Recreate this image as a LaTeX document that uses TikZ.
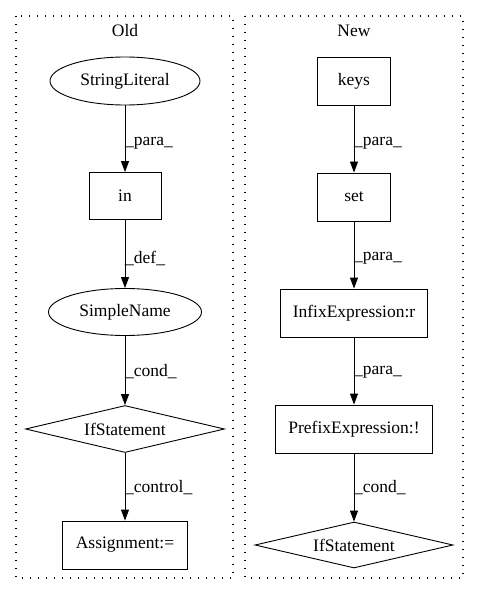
\documentclass[tikz,border=0pt]{standalone}
\usepackage{fontspec}
\setmainfont{Liberation Serif}
\usetikzlibrary{shapes.geometric,arrows.meta}
\begin{document}
\begin{tikzpicture}[x=1pt,y=-1pt,
  every node/.style={font=\fontsize{17.5}{20}\selectfont},
  box/.style={draw,rectangle,inner sep=0pt,line width=0.9pt},
  ell/.style={draw,ellipse,inner sep=0pt,line width=0.9pt},
  dia/.style={draw,diamond,aspect=4.3,inner sep=0pt,line width=0.9pt},
  cluster/.style={draw,line width=1.3pt,dash pattern=on 1.3pt off 6.7pt},
  edge/.style={-{Triangle[length=11pt,width=8pt]},line width=0.9pt},
  elab/.style={anchor=west,inner sep=0pt}]
\useasboundingbox (0,0) rectangle (480,596);
% clusters
\draw[cluster] (16,16) rectangle (233,578);
\draw[cluster] (245,16) rectangle (463,578);
\node (oldt) at (125,31) {Old};
\node (newt) at (354,31) {New};
% Old
\node[ell,minimum width=150pt,minimum height=48pt] (sl) at (125,81) {StringLiteral};
\node[box,minimum width=72pt,minimum height=47pt] (in) at (125,196) {in};
\node[ell,minimum width=153pt,minimum height=47pt] (sn) at (125,312) {SimpleName};
\node[dia,minimum width=199pt,minimum height=47pt] (if1) at (125,429) {IfStatement};
\node[box,minimum width=125pt,minimum height=48pt] (as) at (125,545) {Assignment:=};
\draw[edge] (sl) -- (in);
\node[elab] (l1) at (125,143) {\_para\_};
\draw[edge] (in) -- (sn);
\node[elab] (l2) at (125,258) {\_def\_};
\draw[edge] (sn) -- (if1);
\node[elab] (l3) at (125,372) {\_cond\_};
\draw[edge] (if1) -- (as);
\node[elab] (l4) at (125,488) {\_control\_};
% New
\node[box,minimum width=73pt,minimum height=48pt] (keys) at (354,81) {keys};
\node[box,minimum width=73pt,minimum height=48pt] (set) at (354,197) {set};
\node[box,minimum width=147pt,minimum height=48pt] (inf) at (354,313) {InfixExpression:r};
\node[box,minimum width=157pt,minimum height=48pt] (pre) at (354,429) {PrefixExpression:!};
\node[dia,minimum width=198pt,minimum height=46pt] (if2) at (354,545) {IfStatement};
\draw[edge] (keys) -- (set);
\node[elab] (m1) at (354,143) {\_para\_};
\draw[edge] (set) -- (inf);
\node[elab] (m2) at (354,258) {\_para\_};
\draw[edge] (inf) -- (pre);
\node[elab] (m3) at (354,372) {\_para\_};
\draw[edge] (pre) -- (if2);
\node[elab] (m4) at (354,488) {\_cond\_};
\end{tikzpicture}
\end{document}
